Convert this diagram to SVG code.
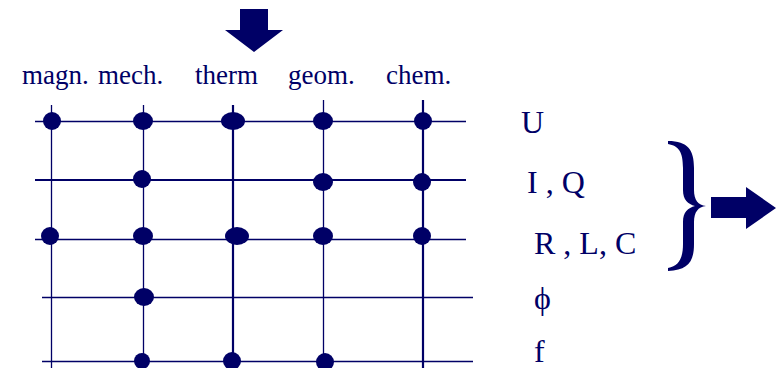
<svg xmlns="http://www.w3.org/2000/svg" width="776" height="368" viewBox="0 0 776 368">
<style>
.ln{stroke:#000066;stroke-width:1.3;fill:none}
.lt{stroke:#000066;stroke-width:2.2;fill:none}
.dot{fill:#000066}
.lbl{font-family:'Liberation Serif','Times New Roman',serif;fill:#000066;font-size:27px}
.rl{font-family:'Liberation Serif','Times New Roman',serif;fill:#000066;font-size:32px}
.sh{fill:#000066}
</style>
<rect width="776" height="368" fill="#ffffff"/>
<g id="arrow-top"><polygon class="sh" points="240,9 268,9 268,30 283,30 254,52 225,30 240,30"/></g>
<g id="col-labels">
<text class="lbl" x="22" y="84">magn.</text>
<text class="lbl" x="98" y="84">mech.</text>
<text class="lbl" x="195" y="84">therm</text>
<text class="lbl" x="288" y="84">geom.</text>
<text class="lbl" x="386" y="84">chem.</text>
</g>
<g id="connectors">
<line class="ln" x1="35" y1="121.5" x2="466" y2="121.5"/>
<line class="lt" x1="35" y1="180" x2="466" y2="180"/>
<line class="ln" x1="35" y1="239.5" x2="466" y2="239.5"/>
<line class="ln" x1="42" y1="297.5" x2="473" y2="297.5"/>
<line class="ln" x1="42" y1="361.5" x2="473" y2="361.5"/>
<line class="ln" x1="51.5" y1="105" x2="51.5" y2="368"/>
<line class="ln" x1="143.5" y1="105" x2="143.5" y2="368"/>
<line class="lt" x1="233" y1="105" x2="233" y2="368"/>
<line class="ln" x1="323.5" y1="100" x2="323.5" y2="368"/>
<line class="lt" x1="423" y1="100" x2="423" y2="368"/>
</g>
<g id="dots">
<g id="d-magn-U"><ellipse class="dot" cx="52" cy="121" rx="9" ry="9"/></g>
<g id="d-mech-U"><ellipse class="dot" cx="143" cy="121" rx="10" ry="9"/></g>
<g id="d-therm-U"><ellipse class="dot" cx="233" cy="121" rx="12" ry="9"/></g>
<g id="d-geom-U"><ellipse class="dot" cx="323" cy="121" rx="10" ry="9"/></g>
<g id="d-chem-U"><ellipse class="dot" cx="423" cy="121" rx="9" ry="9"/></g>
<g id="d-mech-I"><ellipse class="dot" cx="142" cy="179" rx="9" ry="9"/></g>
<g id="d-geom-I"><ellipse class="dot" cx="323" cy="182" rx="10" ry="9"/></g>
<g id="d-chem-I"><ellipse class="dot" cx="422" cy="182" rx="9" ry="9"/></g>
<g id="d-magn-R"><ellipse class="dot" cx="50" cy="236" rx="9" ry="9"/></g>
<g id="d-mech-R"><ellipse class="dot" cx="143" cy="236" rx="10" ry="9"/></g>
<g id="d-therm-R"><ellipse class="dot" cx="237" cy="236" rx="12" ry="9"/></g>
<g id="d-geom-R"><ellipse class="dot" cx="323" cy="236" rx="10" ry="9"/></g>
<g id="d-chem-R"><ellipse class="dot" cx="422" cy="236" rx="9" ry="9"/></g>
<g id="d-mech-phi"><ellipse class="dot" cx="144" cy="297" rx="10" ry="9"/></g>
<g id="d-mech-f"><ellipse class="dot" cx="142" cy="361" rx="8" ry="8"/></g>
<g id="d-therm-f"><ellipse class="dot" cx="232" cy="361" rx="9" ry="9"/></g>
<g id="d-geom-f"><ellipse class="dot" cx="325" cy="362" rx="9" ry="9"/></g>
</g>
<g id="row-labels">
<text class="rl" x="521" y="133">U</text>
<text class="rl" x="527" y="193">I , Q</text>
<text class="rl" x="534" y="254">R , L, C</text>
<text class="rl" x="534" y="309">ϕ</text>
<text class="rl" x="534" y="362">f</text>
</g>
<g id="brace"><path class="sh" d="M668,141 C688,141 694,150 694,168 L694,190 C694,200 698,205 706,206 C698,207 694,212 694,222 L694,244 C694,262 688,270 668,271 L668,268 C679,266 683,258 683,244 L683,222 C683,212 688,208 695,206 C688,204 683,200 683,190 L683,168 C683,152 679,146 668,144 Z"/></g>
<g id="arrow-right"><polygon class="sh" points="711,197 746,197 746,187 776,208 746,229 746,218 711,218"/></g>
</svg>
